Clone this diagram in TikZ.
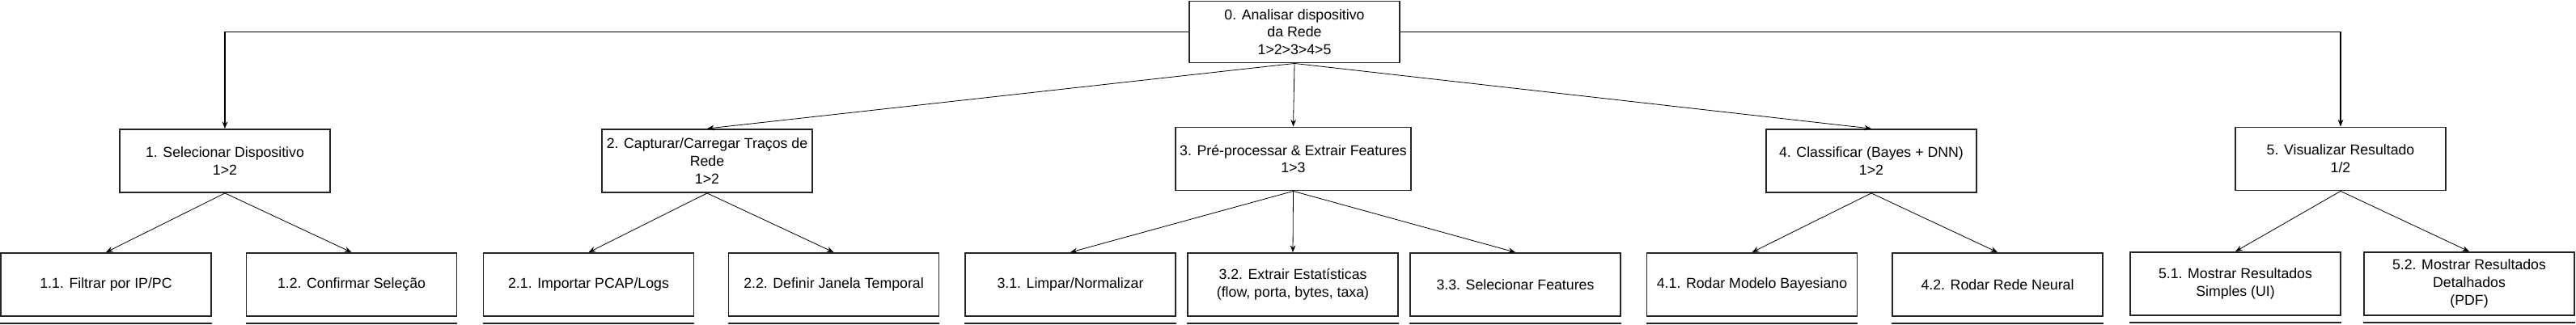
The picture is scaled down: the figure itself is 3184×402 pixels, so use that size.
\documentclass[tikz,border=0pt]{standalone}
\usepackage{fontspec}
\setmainfont{Liberation Sans}
\usetikzlibrary{arrows.meta}
\begin{document}
\begin{tikzpicture}[x=0.75pt,y=-0.75pt,
  box/.style={draw=black!85,line width=1.4pt,rectangle,align=center,inner sep=0pt,
    font=\fontsize{13.3}{16.3}\selectfont,minimum width=195pt,minimum height=58.5pt},
  arr/.style={draw=black,line width=0.6pt,-{Stealth[length=6.5pt,width=5pt]}},
  link/.style={draw=black,line width=1.1pt,-{Stealth[length=6.5pt,width=5pt]}},
  uline/.style={draw=black!85,line width=1.2pt}]
\useasboundingbox (0,0) rectangle (3184,402);
% root
\node[box,minimum height=57pt] (n0) at (1600,39.5) {0. Analisar dispositivo\\da Rede\\1>2>3>4>5};
% level 1
\node[box] (n1) at (278,199) {1. Selecionar Dispositivo\\1>2};
\node[box] (n2) at (874,199) {2. Capturar/Carregar Traços de\\Rede\\1>2};
\node[box,minimum width=218pt] (n3) at (1598.5,196.5) {3. Pré-processar \& Extrair Features\\1>3};
\node[box] (n4) at (2313,199) {4. Classificar (Bayes + DNN)\\1>2};
\node[box] (n5) at (2893,196.5) {5. Visualizar Resultado\\1/2};
% level 2
\node[box] (n11) at (131,352) {1.1. Filtrar por IP/PC};
\node[box] (n12) at (434.5,352) {1.2. Confirmar Seleção};
\node[box] (n21) at (727.5,352) {2.1. Importar PCAP/Logs};
\node[box] (n22) at (1030.5,352) {2.2. Definir Janela Temporal};
\node[box] (n31) at (1323,352) {3.1. Limpar/Normalizar};
\node[box] (n32) at (1598,352) {3.2. Extrair Estatísticas\\(flow, porta, bytes, taxa)};
\node[box] (n33) at (1873,352) {3.3. Selecionar Features};
\node[box] (n41) at (2165.5,352) {4.1. Rodar Modelo Bayesiano};
\node[box] (n42) at (2469,352) {4.2. Rodar Rede Neural};
\node[box] (n51) at (2763,351) {5.1. Mostrar Resultados\\Simples (UI)};
\node[box] (n52) at (3052,351) {5.2. Mostrar Resultados\\Detalhados\\(PDF)};
% root connectors
\draw[link] (n0.west) -| (n1.north);
\draw[link] (n0.east) -| (n5.north);
\draw[arr] (n0.south) -- (n2.north);
\draw[arr] (n0.south) -- (n3.north);
\draw[arr] (n0.south) -- (n4.north);
% children
\foreach \p/\c in {n1/n11,n1/n12,n2/n21,n2/n22,n3/n31,n3/n32,n3/n33,n4/n41,n4/n42,n5/n51,n5/n52}
  \draw[arr] (\p.south) -- (\c.north);
% underlines
\foreach \c in {n11,n12,n21,n22,n31,n32,n33,n41,n42,n51,n52}
  \draw[uline] ([yshift=-6pt]\c.south west) -- ([yshift=-6pt]\c.south east);
\end{tikzpicture}
\end{document}
